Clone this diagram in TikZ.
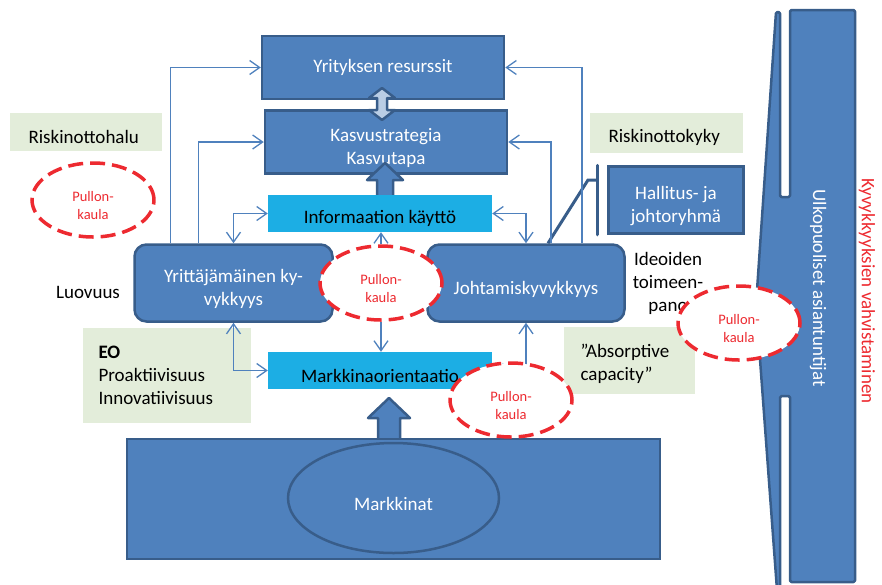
\documentclass[tikz,border=0pt]{standalone}
\usepackage{fontspec}
\setmainfont{Carlito}
\usetikzlibrary{shapes.geometric,arrows.meta}

\definecolor{boxblue}{RGB}{79,129,189}
\definecolor{edgeblue}{RGB}{56,93,138}
\definecolor{infocyan}{RGB}{28,174,228}
\definecolor{notegreen}{RGB}{227,237,218}
\definecolor{neckred}{RGB}{237,42,48}
\definecolor{lightblue}{RGB}{185,205,229}

\tikzset{
  bluebox/.style={draw=edgeblue, line width=2.5pt, fill=boxblue, text=white, inner sep=0pt, align=center},
  roundbox/.style={bluebox, rounded corners=12pt},
  cyanbox/.style={fill=infocyan, inner sep=0pt, minimum width=224pt, minimum height=37pt},
  greenbox/.style={fill=notegreen, inner sep=0pt},
  pullon/.style={ellipse, draw=neckred, fill=white, line width=3.5pt, dash pattern=on 15pt off 7pt,
    inner sep=0pt, minimum width=122pt, minimum height=74pt,
    label={[text=neckred, align=center, yshift=-6pt, font=\fontsize{14.5}{18}\selectfont]center:Pullon-\\kaula}},
  wlbl/.style={label={[text=white, align=center, yshift=-6pt]center:#1}},
  klbl/.style={label={[text=black, align=center, yshift=-5pt]center:#1}},
  conn/.style={draw=boxblue, line width=1.3pt, -{Straight Barb[length=10pt,width=14pt]}},
  dconn/.style={conn, {Straight Barb[length=10pt,width=14pt]}-{Straight Barb[length=10pt,width=14pt]}},
  blockarrow/.style={draw=edgeblue, line width=2.5pt, fill=boxblue, line join=round},
}

\begin{document}
\begin{tikzpicture}[x=1pt, y=-1pt, font=\fontsize{19}{23}\selectfont]
  \useasboundingbox (0,0) rectangle (882,584);

  % green notes
  \node[greenbox, minimum width=152pt, minimum height=38pt] (halu) at (86,132) {};
  \node[anchor=west] at (25,137) {Riskinottohalu};
  \node[greenbox, minimum width=153pt, minimum height=40pt] (kyky) at (666.5,133) {};
  \node[anchor=west] at (605,137) {Riskinottokyky};
  \node[greenbox, minimum width=168pt, minimum height=95pt] (eo) at (167,375.5) {};
  \node[anchor=west, align=left] at (95,375) {\textbf{EO}\\Proaktiivisuus\\Innovatiivisuus};
  \node[greenbox, minimum width=131pt, minimum height=67pt] (abs) at (629.5,360.5) {};
  \node[anchor=west, align=left] at (577,363.5) {”Absorptive\\capacity”};

  % outside experts
  \draw[blockarrow, rounded corners=1.5pt] (776,12) -- (780,12) -- (780,197) -- (790,197) -- (790,10)
    -- (855,10) -- (855,582) -- (790,582) -- (790,396) -- (780,396) -- (780,590) -- (777,590)
    -- (756,305) -- cycle;
  \node[rotate=-90, text=white] (ulko) at (818,288) {Ulkopuoliset asiantuntijat};
  \node[rotate=-90, text=neckred] (vahv) at (867,291) {Kyvykkyyksien vahvistaminen};

  % markets
  \draw[blockarrow] (400,445) -- (400,418) -- (410,418) -- (389,398) -- (368,418) -- (378,418) -- (378,445) -- cycle;
  \node[bluebox, minimum width=533pt, minimum height=120pt] (mark) at (393.5,499) {};
  \node[ellipse, draw=edgeblue, line width=2.5pt, fill=boxblue, inner sep=0pt,
    minimum width=211pt, minimum height=110pt, wlbl=Markkinat] (markkinat) at (393.5,498) {};

  % boxes
  \node[bluebox, minimum width=242pt, minimum height=63pt] (res) at (383,67.5) {Yrityksen resurssit};
  \node[bluebox, minimum width=242pt, minimum height=63pt, wlbl={Kasvustrategia\\Kasvutapa}] (kasvu) at (386,142) {};
  \draw[blockarrow] (393,200) -- (393,180) -- (403,180) -- (385,163) -- (367,180) -- (377,180) -- (377,200) -- cycle;
  \draw[blockarrow, fill=lightblue] (382,88) -- (395,98) -- (387,98) -- (387,110) -- (395,110) -- (382,120)
    -- (369,110) -- (377,110) -- (377,98) -- (369,98) -- cycle;
  \node[cyanbox, klbl={Informaation käyttö}] (info) at (380,213.5) {};
  \node[cyanbox, klbl={Markkinaorientaatio}] (markk) at (380,370.5) {};
  \node[roundbox, minimum width=198pt, minimum height=77pt, wlbl={Yrittäjämäinen ky-\\vykkyys}] (yritt) at (233.5,283) {};
  \node[roundbox, minimum width=197pt, minimum height=77pt, wlbl={Johtamiskyvykkyys}] (johto) at (526,283) {};
  \node[bluebox, minimum width=135pt, minimum height=67pt, wlbl={Hallitus- ja\\johtoryhmä}] (hall) at (676,200) {};

  \draw[edgeblue, line width=3pt] ([xshift=22pt]johto.north) -- (588,180) -- (598,180);
  \draw[edgeblue, line width=3pt, line cap=round] ([xshift=-10pt]hall.north west) -- ([xshift=-10pt]hall.south west);

  \node (luov) at (88,292) {Luovuus};
  \node[align=center] (ideo) at (668,283) {Ideoiden\\toimeen-\\pano};

  % connectors
  \draw[conn] ([xshift=-63pt]yritt.north) |- (res.west);
  \draw[conn] ([xshift=-35pt]yritt.north) |- (kasvu.west);
  \draw[dconn] (yritt.north) |- (info.west);
  \draw[conn] ([xshift=56pt]johto.north) |- (res.east);
  \draw[conn] ([xshift=25pt]johto.north) |- (kasvu.east);
  \draw[dconn] (johto.north) |- (info.east);
  \draw[dconn] (yritt.south) |- (markk.west);
  \draw[dconn] (johto.south) |- (markk.east);

  % bottlenecks
  \node[pullon] (neck1) at (93,200) {};
  \node[pullon] (neck2) at (381,283) {};
  \node[pullon] (neck3) at (511,400) {};
  \node[pullon] (neck4) at (739,323) {};

  \draw[conn] (neck2.north) -- (neck2.north |- info.south);
  \draw[conn] (neck2.south) -- (neck2.south |- markk.north);
\end{tikzpicture}
\end{document}
